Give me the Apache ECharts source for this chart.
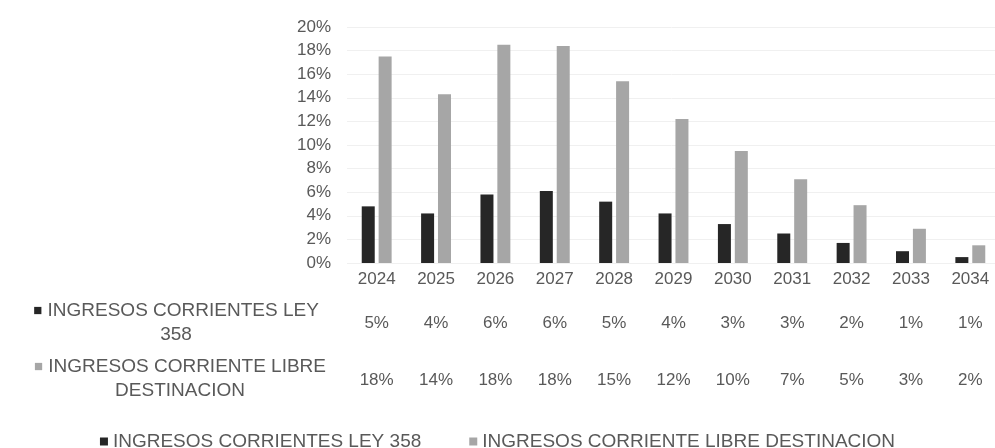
<!DOCTYPE html>
<html>
<head>
<meta charset="utf-8">
<script src="https://cdn.jsdelivr.net/npm/echarts@6/dist/echarts.min.js"></script>
<style>
  html, body { margin: 0; padding: 0; background: #fff; }
  #chart { width: 995px; height: 448px; }
</style>
</head>
<body>
<div id="chart"></div>
<script>
var years = ['2024', '2025', '2026', '2027', '2028', '2029', '2030', '2031', '2032', '2033', '2034'];

var ley358 = [4.8, 4.2, 5.8, 6.1, 5.2, 4.2, 3.3, 2.5, 1.7, 1.0, 0.5];
var libreDest = [17.5, 14.3, 18.5, 18.4, 15.4, 12.2, 9.5, 7.1, 4.9, 2.9, 1.5];

// rows of the data table under the axis
var ley358Labels = ['5%', '4%', '6%', '6%', '5%', '4%', '3%', '3%', '2%', '1%', '1%'];
var libreDestLabels = ['18%', '14%', '18%', '18%', '15%', '12%', '10%', '7%', '5%', '3%', '2%'];

var NAME_A = 'INGRESOS CORRIENTES LEY 358';
var NAME_B = 'INGRESOS CORRIENTE LIBRE DESTINACION';

const DARK = '#262626';
const LIGHT = '#a6a6a6';
const TEXT = '#595959';
const FONT = '"Liberation Sans", Arial, sans-serif';

function tableAxis(labels, offset) {
  return {
    type: 'category',
    data: years,
    position: 'bottom',
    offset: offset,
    axisLine: { show: false },
    axisTick: { show: false },
    axisLabel: {
      margin: 8,
      interval: 0,
      color: TEXT,
      fontFamily: FONT,
      fontSize: 17,
      formatter: function (v, i) { return labels[i]; }
    }
  };
}

function rowLabel(text, x, y, keyColor) {
  return {
    type: 'text',
    x: x,
    y: y,
    style: {
      text: text,
      font: '19px ' + FONT,
      fill: TEXT,
      align: 'center',
      verticalAlign: 'middle',
      lineHeight: 24,
      rich: { m: { fill: keyColor, fontSize: 15, lineHeight: 24 } }
    }
  };
}

var option = {
  animation: false,
  textStyle: { fontFamily: FONT },
  grid: {
    left: 347,
    width: 653,
    top: 27,
    bottom: 185,
    containLabel: false,
    outerBoundsMode: 'none'
  },
  legend: {
    data: [NAME_A, NAME_B],
    left: 'center',
    top: 427,
    icon: 'rect',
    itemWidth: 8,
    itemHeight: 8,
    itemGap: 48,
    textStyle: { color: TEXT, fontSize: 19, fontFamily: FONT }
  },
  xAxis: [
    {
      type: 'category',
      data: years,
      axisLine: { show: false },
      axisTick: { show: false },
      axisLabel: { margin: 8, interval: 0, color: TEXT, fontSize: 17, fontFamily: FONT }
    },
    tableAxis(ley358Labels, 44),
    tableAxis(libreDestLabels, 101)
  ],
  yAxis: {
    type: 'value',
    min: 0,
    max: 20,
    interval: 2,
    axisLine: { show: false },
    axisTick: { show: false },
    splitLine: { lineStyle: { color: '#f0f0f0' } },
    axisLabel: { margin: 16, color: TEXT, fontSize: 17, fontFamily: FONT, formatter: '{value}%' }
  },
  graphic: [
    rowLabel('{m|■} INGRESOS CORRIENTES LEY\n358', 176, 323, DARK),
    rowLabel('{m|■} INGRESOS CORRIENTE LIBRE\nDESTINACION', 180, 379, LIGHT)
  ],
  series: [
    {
      name: NAME_A,
      type: 'bar',
      data: ley358,
      barWidth: 13,
      barGap: '30%',
      itemStyle: { color: DARK }
    },
    {
      name: NAME_B,
      type: 'bar',
      data: libreDest,
      barWidth: 13,
      barGap: '30%',
      itemStyle: { color: LIGHT }
    }
  ]
};

var chart = echarts.init(document.getElementById('chart'));
chart.setOption(option);
</script>
</body>
</html>
